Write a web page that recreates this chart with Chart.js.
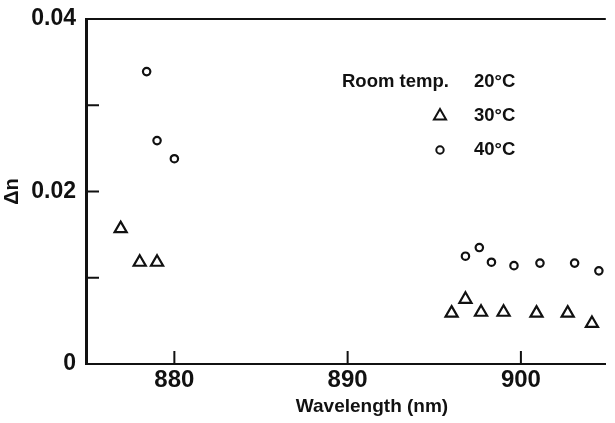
<!DOCTYPE html>
<html>
<head>
<meta charset="utf-8">
<script src="https://cdn.jsdelivr.net/npm/chart.js@4.4.0/dist/chart.umd.min.js"></script>
<style>
  html, body { margin: 0; padding: 0; background: #fff; }
  #wrap { width: 615px; height: 423px; }
</style>
</head>
<body>
<div id="wrap"><canvas id="myChart" width="615" height="423"></canvas></div>
<script>
// data
const wavelength30 = [876.9, 878.0, 879.0, 896.0, 896.8, 897.7, 899.0, 900.9, 902.7, 904.1];
const dn30 = [0.0157, 0.0118, 0.0118, 0.0059, 0.0075, 0.0060, 0.0060, 0.0059, 0.0059, 0.0047];
const wavelength40 = [878.4, 879.0, 880.0, 896.8, 897.6, 898.3, 899.6, 901.1, 903.1, 904.5];
const dn40 = [0.0339, 0.0259, 0.0238, 0.0125, 0.0135, 0.0118, 0.0114, 0.0117, 0.0117, 0.0108];

const seriesNames = ['30°C', '40°C'];
const seriesStyles = ['triangle', 'circle'];
const legendHeader = ['Room temp.', '20°C'];

const xTicks = [880, 890, 900];
const yTicks = [0, 0.01, 0.02, 0.03, 0.04];
const yLabelled = [0, 0.02, 0.04];

const ink = '#111';
const fontFam = '"Liberation Sans", Arial, sans-serif';

const toPts = (xs, ys) => xs.map((x, i) => ({ x: x, y: ys[i] }));

// inner tick marks, top frame line, x title and legend
const decorations = {
  id: 'decorations',
  afterDraw(chart) {
    const ctx = chart.ctx;
    const a = chart.chartArea;
    const xs = chart.scales.x, ys = chart.scales.y;
    ctx.save();
    ctx.strokeStyle = ink;
    ctx.lineWidth = 2;
    ctx.beginPath();
    ctx.moveTo(a.left, a.top);
    ctx.lineTo(a.right, a.top);
    xTicks.forEach(v => {
      const px = xs.getPixelForValue(v);
      ctx.moveTo(px, a.bottom);
      ctx.lineTo(px, a.bottom - 13);
    });
    yTicks.forEach(v => {
      const py = ys.getPixelForValue(v);
      ctx.moveTo(a.left, py);
      ctx.lineTo(a.left + 13, py);
    });
    ctx.stroke();

    ctx.fillStyle = ink;
    ctx.font = 'bold 19px ' + fontFam;
    ctx.textBaseline = 'middle';
    ctx.textAlign = 'center';
    ctx.fillText('Wavelength (nm)', 372, 407);

    // legend
    ctx.font = 'bold 18.5px ' + fontFam;
    ctx.textAlign = 'left';
    ctx.fillText(legendHeader[0], 342, 82);
    ctx.fillText(legendHeader[1], 474, 82);
    seriesNames.forEach((name, i) => {
      const cy = 116 + i * 34;
      ctx.fillText(name, 474, cy);
      const ds = chart.data.datasets[i];
      ctx.lineWidth = 2;
      ctx.strokeStyle = ink;
      ctx.fillStyle = '#fff';
      Chart.helpers.drawPoint(ctx, {
        pointStyle: seriesStyles[i],
        radius: ds.pointRadius,
        borderWidth: 2
      }, 440, cy);
      ctx.fillStyle = ink;
    });
    ctx.restore();
  }
};

const rdx = document.getElementById('myChart').getContext('2d');
const myChart = new Chart(rdx, {
  type: 'scatter',
  data: {
    datasets: [{
      label: seriesNames[0],
      data: toPts(wavelength30, dn30),
      pointStyle: seriesStyles[0],
      pointRadius: 7,
      borderWidth: 2.2,
      borderColor: ink,
      backgroundColor: '#fff'
    }, {
      label: seriesNames[1],
      data: toPts(wavelength40, dn40),
      pointStyle: seriesStyles[1],
      pointRadius: 3.7,
      borderWidth: 2.2,
      borderColor: ink,
      backgroundColor: '#fff'
    }]
  },
  options: {
    responsive: false,
    animation: false,
    layout: { padding: { top: 19, right: 0, left: 0, bottom: 0 } },
    plugins: {
      legend: { display: false },
      tooltip: { enabled: false }
    },
    scales: {
      x: {
        type: 'linear',
        min: 874.9,
        max: 904.9,
        afterBuildTicks: s => { s.ticks = xTicks.map(v => ({ value: v })); },
        afterFit: s => { s.height = 59; },
        grid: { display: false },
        border: { display: true, color: ink, width: 2 },
        ticks: {
          color: ink,
          padding: -6,
          font: { family: fontFam, size: 24, weight: 'bold' },
          callback: v => String(v)
        }
      },
      y: {
        min: 0,
        max: 0.04,
        afterBuildTicks: s => { s.ticks = yTicks.map(v => ({ value: v })); },
        afterFit: s => { s.width = 86; },
        grid: { display: false },
        border: { display: true, color: ink, width: 3 },
        title: {
          display: true,
          text: 'Δn',
          color: ink,
          padding: 0,
          font: { family: fontFam, size: 20, weight: 'bold' }
        },
        ticks: {
          color: ink,
          padding: 2,
          font: { family: fontFam, size: 23, weight: 'bold' },
          callback: v => {
            const hit = yLabelled.find(t => Math.abs(t - v) < 1e-9);
            return hit === undefined ? '' : (hit === 0 ? '0' : hit.toFixed(2));
          }
        }
      }
    }
  },
  plugins: [decorations]
});
</script>
</body>
</html>
